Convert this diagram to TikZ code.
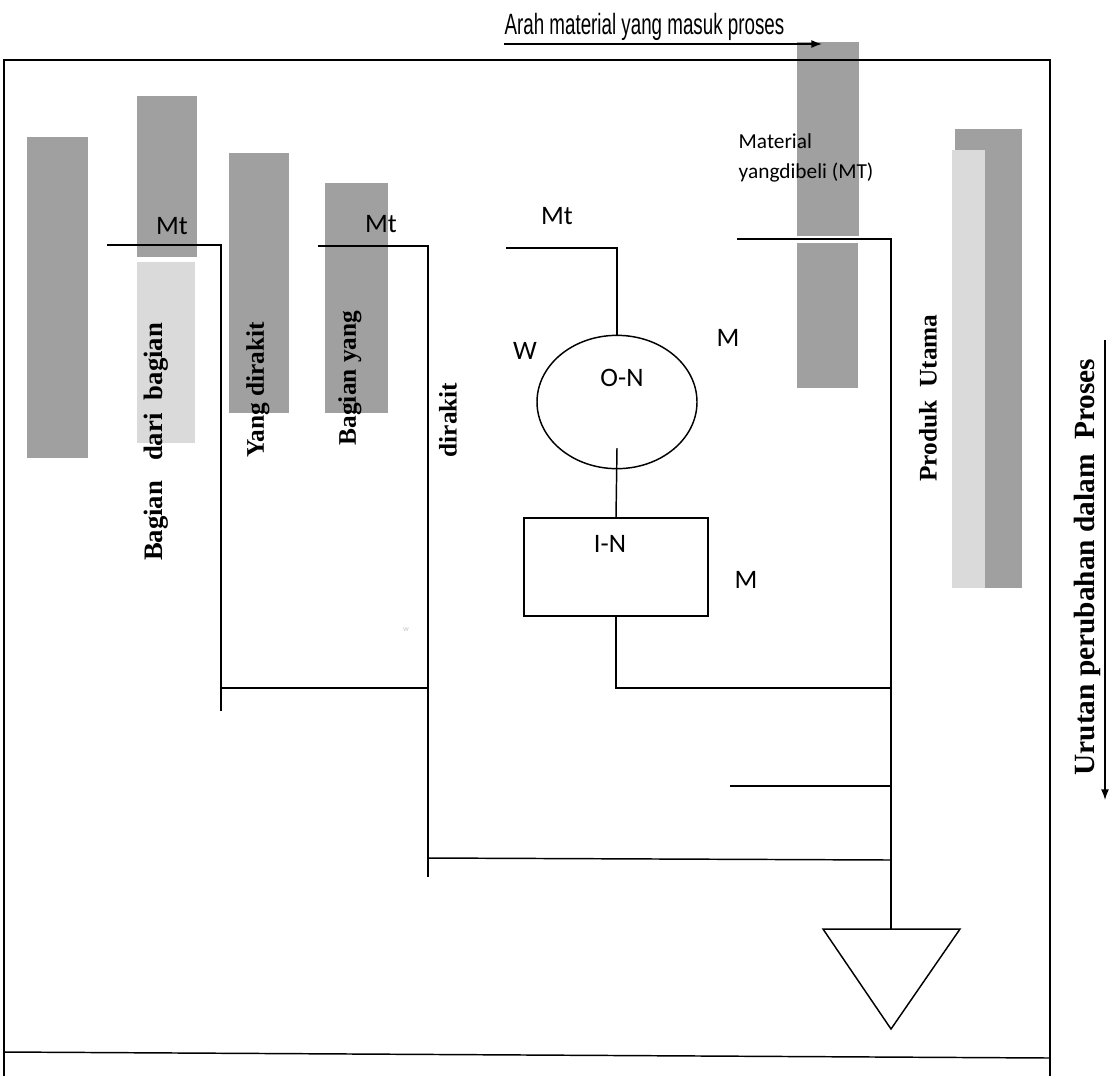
\documentclass[tikz,border=0pt]{standalone}
\usepackage{fontspec}
\setmainfont{Liberation Serif}
\newfontfamily\arialf{Liberation Sans}
\newfontfamily\calf{Carlito}
\usetikzlibrary{arrows.meta,calc,shapes.geometric}
\definecolor{bardark}{RGB}{160,160,160}
\definecolor{barlight}{RGB}{218,218,218}
\begin{document}
\begin{tikzpicture}[x=0.75pt,y=-0.75pt,line width=1.1pt,
  lab/.style={font=\calf\fontsize{20}{23}\selectfont,inner sep=0},
  smalllab/.style={font=\calf\fontsize{16}{19}\selectfont,inner sep=0,anchor=base west},
  vlab/.style={font=\bfseries\fontsize{19}{23}\selectfont,rotate=90,inner sep=0},
  headarrow/.style={-{Latex[length=8pt,width=6pt]}}]
\useasboundingbox (0,0) rectangle (1110,1076);
\fill[white] (0,0) rectangle (1110,1076);
% gray bars
\fill[bardark] (27,137) rectangle (88,458);
\fill[bardark] (137,96) rectangle (197,257);
\fill[barlight] (137,262) rectangle (195,443);
\fill[bardark] (229,153) rectangle (289,413);
\fill[bardark] (325,183) rectangle (388,413);
\fill[bardark] (797,42) rectangle (859,236);
\fill[bardark] (797,243) rectangle (858,388);
\fill[bardark] (955,129) rectangle (1022,588);
\fill[barlight] (952,150) rectangle (985,588);
% frame
\draw (4,1076) -- (4,60) -- (1050,60) -- (1050,1076);
\draw (4,1052) -- (1050,1058);
% title
\node[font=\arialf\fontsize{22}{26}\selectfont,anchor=base east,inner sep=0] (title) at (785,34) {\scalebox{0.64}[1]{Arah material yang masuk proses}};
\coordinate (titletip) at (822,44);
\draw[headarrow] (title.west |- titletip) -- (titletip);
% right arrow
\coordinate (urtop) at (1105,340);
\coordinate (urbot) at (1105,800);
\draw[headarrow] (urtop) -- (urbot);
\node[vlab,font=\bfseries\fontsize{22}{26}\selectfont] (urutan) at (1087,567) {Urutan perubahan dalam\ \ Proses};
% symbols
\node[ellipse,draw,minimum width=120pt,minimum height=100pt,inner sep=0] (oval) at (617,402) {};
\node[rectangle,draw,minimum width=138pt,minimum height=73.5pt,inner sep=0] (box) at (616,567) {};
\coordinate (tritop) at (891,929);
\draw (823,929) -- (960,929) -- (891,1029) -- cycle;
% connector coordinates
\coordinate (l1s) at (107,245);
\coordinate (l1e) at (221,711);
\coordinate (l2s) at (318,246);
\coordinate (l2e) at (428,877);
\coordinate (l3s) at (506,248);
\coordinate (ovalin) at (617,448);
\coordinate (l4s) at (737,239);
\coordinate (j1) at (221,688);
\coordinate (stub) at (730,786);
\coordinate (j2) at (428,858);
% connectors
\draw (l1s) -| (l1e);
\draw (l2s) -| (l2e);
\draw (j1) -- (j1 -| l2e);
\draw (l3s) -| (oval.north);
\draw (ovalin) -- (box.north);
\draw (box.south) |- (tritop |- 0,688);
\draw (l4s) -| (tritop);
\draw (stub) -- (stub -| tritop);
\draw (j2) -- (tritop |- 0,860);
% labels
\node[lab] (mt1) at (172,226) {Mt};
\node[lab] (mt2) at (381,224) {Mt};
\node[lab] (mt3) at (557,216) {Mt};
\node[lab] (wlab) at (525,351) {W};
\node[lab] (m1) at (728,338) {M};
\node[lab] (onlab) at (622,378) {O-N};
\node[lab] (inlab) at (610,544) {I-N};
\node[lab] (m2) at (746,580) {M};
\node[font=\calf\fontsize{6}{7}\selectfont,text=gray!45,inner sep=0] (wfaint) at (406,630) {w};
\node[smalllab] (mat1) at (738,148) {Material};
\node[smalllab] (mat2) at (738,178) {yangdibeli (MT)};
% rotated labels
\node[vlab,font=\bfseries\fontsize{20}{24}\selectfont] (bdb) at (156,442) {Bagian\ \ \ dari\ \ bagian};
\node[vlab] (yd) at (258,390) {Yang dirakit};
\node[vlab] (by) at (350,378) {Bagian yang};
\node[vlab] (dr) at (448,420) {dirakit};
\node[vlab] (pu) at (928,398) {Produk\ \ Utama};
\end{tikzpicture}
\end{document}
